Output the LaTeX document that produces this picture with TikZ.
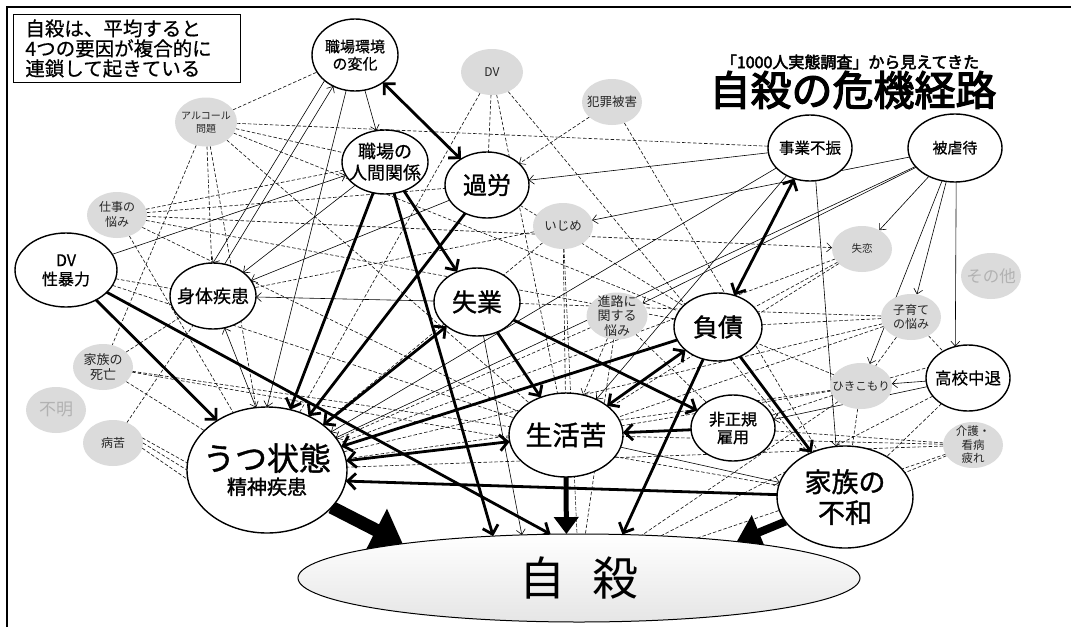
\documentclass[tikz,border=0pt]{standalone}
\usepackage{fontspec}
\setmainfont{Noto Sans CJK JP}
\newfontfamily\heavyfont{Noto Sans CJK JP}[FakeBold=3]
\newfontfamily\semifont{Noto Sans CJK JP}[FakeBold=1.2]
\newfontfamily\lightbold{Noto Sans CJK JP}[FakeBold=0.6]
\usetikzlibrary{shapes.geometric,arrows.meta}
\pgfdeclarelayer{bg}
\pgfsetlayers{bg,main}
\newcommand\fs[2]{\fontsize{#1}{#2}\selectfont}
\newcommand\zc[2][1]{\makebox[0pt]{\raisebox{\dimexpr(\depth-\height)/2-0.12em\relax}[0pt][0pt]{\def\arraystretch{#1}\begin{tabular}{@{}c@{}}#2\end{tabular}}}}
\begin{document}
\begin{tikzpicture}[x=1pt,y=-1pt,
  mainnode/.style={ellipse, draw, line width=1.4pt, fill=white, inner sep=0pt, outer sep=0pt},
  graynode/.style={ellipse, fill=gray!28, inner sep=0pt, outer sep=0pt, minimum width=60pt, minimum height=46pt, text=black!85},
  dimtext/.style={text=black!30},
  thinarrow/.style={line width=0.6pt, -{Straight Barb[length=5pt,width=9pt,line width=0.6pt]}},
  thinboth/.style={line width=0.6pt, {Straight Barb[length=5pt,width=9pt,line width=0.6pt]}-{Straight Barb[length=5pt,width=9pt,line width=0.6pt]}},
  dashline/.style={line width=0.65pt, dash pattern=on 3.5pt off 2pt, black!90},
  dasharrow/.style={dashline, -{Straight Barb[length=5pt,width=9pt,line width=0.6pt]}},
  boldarrow/.style={line width=2.8pt, -{Straight Barb[length=8pt,width=16pt,line width=2.8pt]}},
  boldboth/.style={line width=2.8pt, {Straight Barb[length=8pt,width=16pt,line width=2.8pt]}-{Straight Barb[length=8pt,width=16pt,line width=2.8pt]}},
  heavyarrow/.style={line width=13pt, -{Triangle[length=30pt,width=46pt]}},
  bigarrow/.style={line width=8pt, -{Triangle[length=24pt,width=36pt]}},
  midarrow/.style={line width=5pt, -{Triangle[length=17pt,width=24pt]}}]
\useasboundingbox (0,0) rectangle (1071,627);
% frame
\draw[line width=1.2pt] (7,627) -- (7,7) -- (1071,7);
% text box and title
\node[draw, line width=0.8pt, anchor=north west, text width=203pt, inner xsep=12pt, inner ysep=5pt, minimum height=68pt, align=left, font=\lightbold\fs{19.5}{20}] (box) at (13,14) {自殺は、平均すると\\4つの要因が複合的に\\連鎖して起きている};
\node[font=\heavyfont\fs{16}{18}, inner sep=0pt] (sub) at (850,62) {「1000人実態調査」から見えてきた};
\node[font=\heavyfont\fs{41}{44}, inner sep=0pt] (title) at (853,90) {自殺の危機経路};
% main nodes
\node[mainnode, minimum width=86pt, minimum height=72pt, font=\lightbold\fs{15}{15.5}] (env) at (355,55) {\zc{職場環境\\の変化}};
\node[mainnode, minimum width=86pt, minimum height=64pt, font=\lightbold\fs{18}{21}] (rel) at (385,162) {\zc{職場の\\人間関係}};
\node[mainnode, minimum width=84pt, minimum height=66pt, font=\semifont\fs{24}{26}] (karo) at (487,185) {\zc{過労}};
\node[mainnode, minimum width=84pt, minimum height=66pt, font=\lightbold\fs{15.5}{18}] (jigyo) at (810,148) {\zc{事業不振}};
\node[mainnode, minimum width=94pt, minimum height=68pt, font=\lightbold\fs{15}{18}] (gyaku) at (955,148) {\zc{被虐待}};
\node[mainnode, minimum width=102pt, minimum height=74pt, font=\lightbold\fs{16}{18.5}] (dvs) at (66,270) {\zc{DV\\性暴力}};
\node[mainnode, minimum width=86pt, minimum height=66pt, font=\lightbold\fs{18}{20}] (shintai) at (213,296) {\zc{身体疾患}};
\node[mainnode, minimum width=86pt, minimum height=68pt, font=\semifont\fs{25}{27}] (shitsu) at (477,302) {\zc{失業}};
\node[mainnode, minimum width=88pt, minimum height=68pt, font=\semifont\fs{25}{27}] (fusai) at (718,327) {\zc{負債}};
\node[mainnode, minimum width=114pt, minimum height=84pt, font=\semifont\fs{27}{29}] (seikatsu) at (566,435) {\zc{生活苦}};
\node[mainnode, minimum width=84pt, minimum height=66pt, font=\semifont\fs{16}{17}] (hisei) at (733,428) {\zc{非正規\\雇用}};
\node[mainnode, minimum width=84pt, minimum height=66pt, font=\lightbold\fs{16.5}{18}] (kochu) at (968,378) {\zc{高校中退}};
\node[mainnode, minimum width=160pt, minimum height=126pt, font=\fs{20}{24}] (utsu) at (267,470) {\zc{{\semifont\fs{32}{34}うつ状態}\\{\semifont\fs{20}{24}精神疾患}}};
\node[mainnode, minimum width=136pt, minimum height=102pt, font=\semifont\fs{27}{28}] (fuwa) at (845,497) {\zc{家族の\\不和}};
\node[ellipse, draw, line width=1pt, top color=white, bottom color=gray!20, inner sep=0pt, outer sep=0pt, minimum width=562pt, minimum height=88pt, font=\fs{46}{50}] (jisatsu) at (579,578) {\zc{自\hspace{0.6em}殺}};
% gray nodes
\node[graynode, minimum width=62pt, minimum height=49pt, font=\fs{10}{13}] (alc) at (206,122) {\zc{アルコール\\問題}};
\node[graynode, font=\fs{12}{15}] (shigoto) at (117,215) {\zc{仕事の\\悩み}};
\node[graynode, minimum width=62pt, font=\fs{12}{14}] (gdv) at (492,72) {\zc{DV}};
\node[graynode, font=\fs{12.5}{14}] (hanzai) at (612,102) {\zc{犯罪被害}};
\node[graynode, font=\fs{12.5}{14}] (ijime) at (563,226) {\zc{いじめ}};
\node[graynode, minimum width=61pt, minimum height=47pt, font=\fs{13}{14}] (shinro) at (617,316) {\zc{進路に\\関する\\悩み}};
\node[graynode, font=\fs{10.5}{13}] (shitsuren) at (862,249) {\zc{失恋}};
\node[graynode, font=\fs{16.5}{18}, dimtext] (sonota) at (991,276) {\zc{その他}};
\node[graynode, font=\fs{12}{14}] (kosodate) at (911,317) {\zc{子育て\\の悩み}};
\node[graynode, minimum width=62pt, font=\fs{11.5}{14}] (hiki) at (861,386) {\zc{ひきこもり}};
\node[graynode, font=\fs{11.5}{13.5}] (kaigo) at (973,445) {\zc{介護・\\看病\\疲れ}};
\node[graynode, font=\fs{13}{15}] (shibou) at (103,367) {\zc{家族の\\死亡}};
\node[graynode, font=\fs{17}{19}, dimtext] (fumei) at (56,410) {\zc{不明}};
\node[graynode, font=\fs{12}{14}] (byoku) at (113,443) {\zc{病苦}};
\begin{pgfonlayer}{bg}
\fill[white] (0,0) rectangle (1071,627);
% dashed connections
\draw[dashline] (alc) -- (env);
\draw[dashline] (alc) -- (jigyo);
\draw[dashline] (alc) -- (rel);
\draw[dashline] (alc) -- (shintai);
\draw[dashline] (alc) -- (shibou);
\draw[dashline] (alc) -- (utsu);
\draw[dashline] (alc) -- (fusai);
\draw[dashline] (alc) -- (seikatsu);
\draw[dashline] (shigoto) -- (rel);
\draw[dasharrow] (shigoto) -- (shitsuren);
\draw[dashline] (shigoto) -- (fusai);
\draw[dashline] (shigoto) -- (utsu);
\draw[dashline] (shigoto) -- (seikatsu);
\draw[dashline] (shigoto) -- (karo);
\draw[dashline] (gdv) -- (utsu);
\draw[dashline] (gdv) -- (karo);
\draw[dashline] (gdv) -- (fuwa);
\draw[dashline] (gdv) -- (seikatsu);
\draw[dasharrow] (hanzai) -- (karo);
\draw[dashline] (hanzai) -- (fuwa);
\draw[dashline] (ijime) -- (utsu);
\draw[dashline] (ijime) -- (shintai);
\draw[dashline] (ijime) -- (seikatsu);
\draw[dashline] (ijime) -- (jisatsu);
\draw[dashline] (shinro) -- (utsu);
\draw[dasharrow] (shinro) -- (seikatsu);
\draw[dashline] (shinro) -- (jisatsu);
\draw[dashline] (shinro) -- (hisei);
\draw[dashline] (shitsuren) -- (fusai);
\draw[dashline] (shitsuren) -- (seikatsu);
\draw[dashline] (shitsuren) -- (utsu);
\draw[dashline] (kosodate) -- (fusai);
\draw[dashline] (kosodate) -- (seikatsu);
\draw[dashline] (kosodate) -- (kochu);
\draw[dashline] (kosodate) -- (hiki);
\draw[dashline] (kosodate) -- (utsu);
\draw[dashline] (hiki) -- (fusai);
\draw[dashline] (hiki) -- (hisei);
\draw[dashline] (hiki) -- (seikatsu);
\draw[dashline] (hiki) -- (utsu);
\draw[dashline] (hiki) -- (fuwa);
\draw[dashline] (hiki) -- (jisatsu);
\draw[dashline] (hiki) -- (kochu.165);
\draw[dashline] (kaigo) -- (fuwa);
\draw[dashline] (kaigo) -- (hisei);
\draw[dashline] (kaigo) -- (seikatsu);
\draw[dashline] (kaigo) -- (utsu);
\draw[dashline] (kaigo) -- (jisatsu);
\draw[dashline] (kochu) -- (fuwa);
\draw[dashline] (kochu) -- (jisatsu);
\draw[dashline] (shibou) -- (utsu);
\draw[dashline] (shibou) -- (shintai);
\draw[dashline] (shibou) -- (seikatsu);
\draw[dashline] (shibou) -- (fuwa);
\draw[dashline] (byoku.10) -- (utsu.175);
\draw[dashline] (byoku.0) -- (utsu.180);
\draw[dashline] (byoku.-10) -- (utsu.187);
\draw[dashline] (byoku) -- (shintai);
\draw[dashline] (dvs) -- (seikatsu);
\draw[dashline] (dvs) -- (shintai);
\draw[dashline] (karo) -- (fusai);
\draw[dashline] (shitsu) -- (kosodate);
% thin solid arrows
\draw[thinarrow] (env) -- (rel);
\draw[thinarrow] (env) -- (utsu.north);
\draw[thinarrow] (shintai.70) -- (env.-125);
\draw[thinarrow] (env.-140) -- (shintai.north);
\draw[thinarrow] (rel) -- (shintai);
\draw[thinarrow] (karo) -- (shintai);
\draw[thinarrow] (shitsu) -- (shintai);
\draw[thinboth] (shintai.-70) -- (utsu.100);
\draw[thinarrow] (jigyo) -- (karo);
\draw[thinarrow] (gyaku) -- (ijime);
\draw[thinarrow] (gyaku) -- (shinro);
\draw[thinarrow] (gyaku) -- (shitsuren);
\draw[thinarrow] (gyaku) -- (kosodate);
\draw[thinarrow] (gyaku) -- (hiki);
\draw[thinarrow] (gyaku.-88) -- (kochu.112);
\draw[thinarrow] (kochu) -- (hiki);
\draw[thinarrow] (kochu) -- (hisei);
\draw[thinarrow] (jigyo.-80) -- (fuwa.100);
\draw[thinarrow] (shitsu) -- (jisatsu.143.9);
\draw[thinarrow] (dvs) -- (rel);
\draw[thinarrow] (jigyo) -- (utsu);
\draw[thinarrow] (jigyo) -- (seikatsu);
\draw[thinarrow] (gyaku) -- (utsu);
\draw[thinarrow] (seikatsu) -- (fuwa);
% thick arrows
\draw[boldboth] (env) -- (karo);
\draw[boldarrow] (rel) -- (utsu);
\draw[boldarrow] (karo) -- (utsu);
\draw[boldarrow] (rel) -- (jisatsu.154.3);
\draw[boldarrow] (rel) -- (shitsu);
\draw[boldarrow] (dvs) -- (utsu);
\draw[boldarrow] (dvs) -- (jisatsu.123.5);
\draw[boldboth] (utsu) -- (shitsu);
\draw[boldarrow] (shitsu) -- (seikatsu);
\draw[boldarrow] (shitsu) -- (hisei);
\draw[boldarrow] (fusai) -- (utsu);
\draw[boldboth] (utsu) -- (seikatsu);
\draw[boldarrow] (fuwa.178) -- (utsu.-8);
\draw[boldarrow] (hisei) -- (seikatsu);
\draw[boldboth] (fusai) -- (seikatsu);
\draw[boldboth] (jigyo) -- (fusai);
\draw[boldarrow] (fusai) -- (fuwa);
\draw[boldarrow] (fusai) -- (jisatsu.45.3);
\draw[heavyarrow] (utsu.-30) -- (jisatsu.169);
\draw[bigarrow] (fuwa) -- (jisatsu.13.8);
\draw[midarrow] (seikatsu.south) -- (jisatsu.106.5);
\end{pgfonlayer}
\end{tikzpicture}
\end{document}
